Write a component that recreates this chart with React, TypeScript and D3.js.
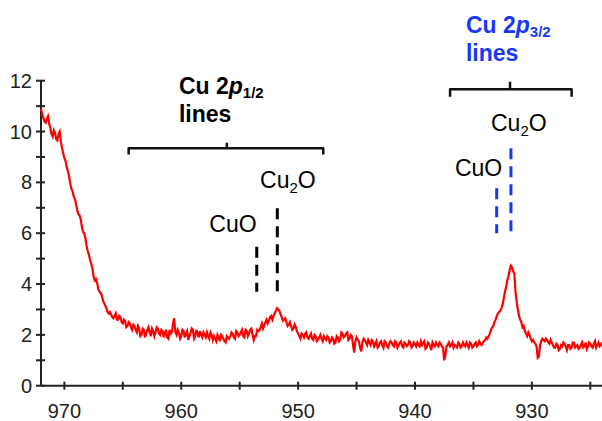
import React from "react";
import { scaleLinear, line, curveLinear } from "d3";

// XPS Cu 2p spectrum, binding energy (eV) runs right-to-left
const energyStart = 972;
const energyStep = 0.1;

// intensity, one value per 0.1 eV from 972.0 down to 924.0
const intensity = [
  10.9, 10.7, 10.55, 10.4, 10.35, 10.5, 10.6, 10.3, 10.15, 9.9, 9.8, 10.05, 9.95, 9.7, 9.65, 9.9, 10.0, 9.6, 9.35, 9.15, 8.95,
  8.85, 8.6, 8.45, 8.25, 7.95, 7.75, 7.65, 7.45, 7.35, 7.15, 6.9, 6.75, 6.7, 6.55, 6.25, 6.05, 6.0, 5.8, 5.5, 5.3,
  5.15, 4.95, 4.8, 4.6, 4.3, 4.15, 4.2, 4.05, 3.8, 3.7, 3.65, 3.55, 3.35, 3.25, 3.15, 3.05, 2.9, 2.85, 2.9, 2.8,
  2.7, 2.65, 2.75, 2.85, 2.6, 2.6, 2.75, 2.7, 2.5, 2.45, 2.6, 2.55, 2.3, 2.35, 2.5, 2.45, 2.3, 2.2, 2.4, 2.35,
  2.2, 2.1, 2.35, 2.25, 1.95, 2.0, 2.25, 2.2, 1.9, 2.05, 2.2, 2.3, 2.1, 1.95, 2.25, 2.15, 1.95, 2.1, 2.3, 2.25,
  2.05, 2.0, 2.2, 2.15, 1.9, 2.05, 2.2, 1.9, 1.85, 2.2, 2.05, 2.1, 2.45, 2.65, 2.1, 2.0, 2.2, 2.1, 1.85, 1.95,
  2.2, 2.15, 1.9, 2.05, 2.15, 1.8, 1.95, 2.1, 2.25, 2.2, 1.85, 1.95, 2.2, 2.05, 1.9, 2.15, 2.0, 1.9, 2.1, 2.0,
  1.9, 2.1, 1.95, 1.85, 2.1, 2.0, 1.8, 1.95, 1.85, 1.75, 2.0, 1.9, 1.75, 2.0, 1.95, 1.85, 1.75, 1.7, 1.95, 1.9,
  1.85, 1.95, 2.1, 2.05, 1.9, 1.85, 2.15, 2.1, 1.95, 2.0, 2.1, 2.2, 1.95, 1.9, 2.2, 2.15, 1.95, 2.05, 2.2, 2.25,
  2.0, 1.8, 1.95, 1.95, 2.2, 2.15, 2.2, 2.3, 2.45, 2.25, 2.35, 2.5, 2.6, 2.45, 2.55, 2.7, 2.75, 2.6, 2.75, 2.85,
  2.95, 3.05, 3.0, 2.95, 2.8, 2.7, 2.55, 2.6, 2.65, 2.5, 2.35, 2.4, 2.5, 2.35, 2.2, 2.25, 2.4, 2.3, 2.15, 2.05,
  1.95, 1.85, 2.05, 2.0, 1.9, 2.05, 2.1, 1.9, 1.85, 1.95, 2.05, 1.85, 1.8, 2.0, 1.95, 1.75, 1.8, 1.9, 2.0, 1.85,
  1.75, 1.95, 1.85, 1.8, 1.95, 1.9, 1.7, 1.75, 1.9, 1.85, 1.65, 1.7, 1.95, 1.9, 1.75, 1.8, 2.1, 2.05, 1.9, 1.95,
  2.05, 2.1, 1.8, 1.85, 2.0, 1.95, 1.6, 1.3, 1.75, 1.9, 1.8, 1.75, 1.5, 1.35, 1.7, 1.85, 1.8, 1.7, 1.6, 1.8,
  1.7, 1.6, 1.8, 1.75, 1.55, 1.65, 1.75, 1.5, 1.55, 1.7, 1.75, 1.6, 1.5, 1.75, 1.7, 1.55, 1.5, 1.65, 1.75, 1.7,
  1.6, 1.55, 1.75, 1.7, 1.5, 1.6, 1.7, 1.75, 1.55, 1.5, 1.7, 1.65, 1.55, 1.6, 1.75, 1.7, 1.5, 1.55, 1.7, 1.65,
  1.55, 1.7, 1.6, 1.55, 1.75, 1.6, 1.7, 1.75, 1.45, 1.5, 1.7, 1.65, 1.55, 1.4, 1.7, 1.6, 1.55, 1.7, 1.6, 1.55,
  1.7, 1.65, 1.55, 1.5, 1.0, 1.2, 1.55, 1.6, 1.7, 1.55, 1.6, 1.7, 1.5, 1.6, 1.55, 1.5, 1.7, 1.65, 1.5, 1.55,
  1.7, 1.6, 1.55, 1.7, 1.6, 1.5, 1.7, 1.65, 1.5, 1.55, 1.65, 1.7, 1.55, 1.6, 1.75, 1.65, 1.6, 1.7, 1.75, 1.8,
  1.9, 1.85, 1.95, 2.05, 2.2, 2.3, 2.35, 2.5, 2.6, 2.75, 2.85, 2.9, 2.95, 3.05, 3.2, 3.45, 3.7, 3.9, 4.15, 4.3,
  4.55, 4.72, 4.65, 4.5, 4.4, 3.7, 3.3, 3.0, 2.75, 2.6, 2.5, 2.3, 2.35, 2.15, 2.05, 1.95, 2.1, 2.0, 1.85, 1.75,
  1.8, 1.7, 1.65, 1.55, 1.1, 1.15, 1.6, 1.75, 1.85, 1.8, 1.75, 1.85, 1.8, 1.7, 1.65, 1.8, 1.7, 1.6, 1.5, 1.5,
  1.65, 1.6, 1.4, 1.45, 1.6, 1.55, 1.7, 1.65, 1.55, 1.4, 1.6, 1.6, 1.45, 1.5, 1.7, 1.7, 1.5, 1.55, 1.6, 1.45,
  1.5, 1.6, 1.7, 1.5, 1.55, 1.7, 1.45, 1.55, 1.7, 1.65, 1.55, 1.5, 1.65, 1.75, 1.5, 1.6, 1.7, 1.55, 1.6, 1.7,
];

const xTicks = [970, 965, 960, 955, 950, 945, 940, 935, 930, 925];
const xLabels = [970, 960, 950, 940, 930];
const yTicks = [0, 1, 2, 3, 4, 5, 6, 7, 8, 9, 10, 11, 12];
const yLabels = [0, 2, 4, 6, 8, 10, 12];

const blue = "#1638f5";

// brackets over each spin-orbit group
const brackets = [
  { from: 964.5, to: 947.85, mid: 956.1, y: 9.34, drop: 9.1, top: 9.56 },
  { from: 937.0, to: 926.6, mid: 931.87, y: 11.66, drop: 11.37, top: 11.96 },
];

const groupTitles = [
  { e: 960.2, v: 11.46, sub: "1/2", color: "#000" },
  { e: 935.64, v: 13.86, sub: "3/2", color: blue },
];

// reference positions of the oxide lines
const oxideLines = [
  { e: 953.54, v0: 3.7, v1: 5.47, color: "#000" },
  { e: 951.78, v0: 3.63, v1: 6.98, color: "#000" },
  { e: 933.01, v0: 6.0, v1: 7.77, color: blue },
  { e: 931.79, v0: 6.0, v1: 9.34, color: blue },
];

const oxideLabels = [
  { name: "CuO", e: 957.6, v: 6.06 },
  { name: "Cu2O", e: 953.26, v: 7.77 },
  { name: "CuO", e: 936.58, v: 8.26 },
  { name: "Cu2O", e: 933.5, v: 10.02 },
];

const W = 602;
const H = 421;

export default function App() {
  const x = scaleLinear().domain([972, 924]).range([41, 602]);
  const y = scaleLinear().domain([0, 12]).range([385.7, 80.7]);

  const points = intensity.map((v, i) => [energyStart - i * energyStep, v] as [number, number]);
  const path = line<[number, number]>()
    .x((d) => x(d[0]))
    .y((d) => y(d[1]))
    .curve(curveLinear)(points);

  const axisColor = "#222";
  const font = "'Liberation Sans', Arial, sans-serif";

  return (
    <svg
      width={W}
      height={H}
      style={{ position: "absolute", left: 0, top: 0, background: "#fff" }}
      fontFamily={font}
    >
      {/* axes */}
      <line x1={x(972)} x2={x(972)} y1={y(12)} y2={y(0)} stroke={axisColor} strokeWidth={2} />
      <line x1={x(972)} x2={W} y1={y(0)} y2={y(0)} stroke={axisColor} strokeWidth={2} />
      {yTicks.map((t) => (
        <line key={t} x1={x(972) - 5} x2={x(972) + 4} y1={y(t)} y2={y(t)} stroke={axisColor} strokeWidth={2} />
      ))}
      {yLabels.map((t) => (
        <text key={t} x={32} y={y(t) + 7} textAnchor="end" fontSize={20} fill="#222">
          {t}
        </text>
      ))}
      {xTicks.map((t) => (
        <line key={t} x1={x(t)} x2={x(t)} y1={y(0) - 4} y2={y(0) + 4} stroke={axisColor} strokeWidth={2} />
      ))}
      {xLabels.map((t) => (
        <text key={t} x={x(t)} y={418} textAnchor="middle" fontSize={20} fill="#222">
          {t}
        </text>
      ))}

      {/* spectrum */}
      <path d={path ?? ""} fill="none" stroke="#ff0000" strokeWidth={2.2} strokeLinejoin="miter" />

      {/* brackets */}
      {brackets.map((b, i) => (
        <g key={i} stroke="#111" strokeWidth={2.5} fill="none">
          <path
            d={`M${x(b.from)},${y(b.drop)}V${y(b.y)}H${x(b.to)}V${y(b.drop)}`}
            strokeLinejoin="round"
          />
          <line x1={x(b.mid)} x2={x(b.mid)} y1={y(b.top)} y2={y(b.y)} />
        </g>
      ))}

      {/* group titles */}
      {groupTitles.map((g, i) => (
        <g key={i} fill={g.color} fontWeight="bold">
          <text x={x(g.e)} y={y(g.v)} fontSize={23}>
            Cu 2<tspan fontStyle="italic">p</tspan>
            <tspan fontSize={15} dy={4}>{g.sub}</tspan>
          </text>
          <text x={x(g.e)} y={y(g.v) + 27.4} fontSize={23}>
            lines
          </text>
        </g>
      ))}

      {/* dashed reference lines */}
      {oxideLines.map((l, i) => (
        <line
          key={i}
          x1={x(l.e)}
          x2={x(l.e)}
          y1={y(l.v1)}
          y2={y(l.v0)}
          stroke={l.color}
          strokeWidth={3}
          strokeDasharray="11 7"
        />
      ))}

      {/* oxide labels */}
      {oxideLabels.map((o, i) => (
        <text key={i} x={x(o.e)} y={y(o.v)} fontSize={23} fill="#000">
          {o.name === "Cu2O" ? (
            <>
              Cu<tspan fontSize={15} dy={5}>2</tspan>
              <tspan dy={-5}>O</tspan>
            </>
          ) : (
            o.name
          )}
        </text>
      ))}
    </svg>
  );
}
